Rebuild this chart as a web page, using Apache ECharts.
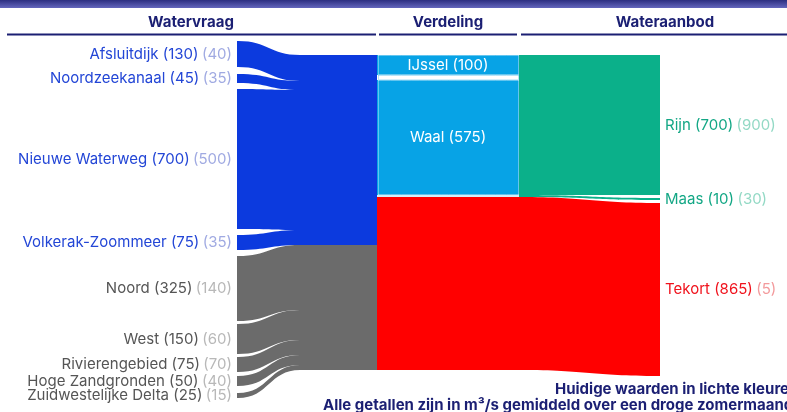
<!DOCTYPE html>
<html>
<head>
<meta charset="utf-8">
<script src="https://cdn.jsdelivr.net/npm/echarts@6/dist/echarts.min.js"></script>
<style>
html,body{margin:0;padding:0;background:#fff;}
#chart{width:787px;height:412px;}
</style>
</head>
<body>
<div id="chart"></div>
<script>
// watervraag (links): toekomstige waarde en huidige waarde (lichte kleur)
var vraagNamen = ['Afsluitdijk', 'Noordzeekanaal', 'Nieuwe Waterweg', 'Volkerak-Zoommeer',
    'Noord', 'West', 'Rivierengebied', 'Hoge Zandgronden', 'Zuidwestelijke Delta'];
var vraagToekomst = [130, 45, 700, 75, 325, 150, 75, 50, 25];
var vraagHuidig = [40, 35, 500, 35, 140, 60, 70, 40, 15];
var vraagGroep = ['blauw', 'blauw', 'blauw', 'blauw', 'grijs', 'grijs', 'grijs', 'grijs', 'grijs'];

// verdeling van de Rijn
var verdelingNamen = ['IJssel', 'Nederrijn', 'Waal'];
var verdelingWaarden = [100, 25, 575];

// wateraanbod (rechts)
var aanbodNamen = ['Rijn', 'Maas', 'Tekort'];
var aanbodToekomst = [700, 10, 865];
var aanbodHuidig = [900, 30, 5];

var kopjes = ['Watervraag', 'Verdeling', 'Wateraanbod'];

// kleuren
var kleur = {
    blauw: '#0c3ade', grijs: '#6b6b6b', lichtblauw: '#07a3e6',
    groen: '#0bb08a', rood: '#ff0000', navy: '#1b1f73'
};
var FONT = 'Inter, "DejaVu Sans", sans-serif';
var FS = 15;

// layout (pixels)
var TOP = 55, H = 315, W = 787;
var totaal = vraagToekomst.reduce(function (a, b) { return a + b; }, 0);
var KY = H / totaal;
var stubY = [41, 74, 89, 235, 256, 324, 357, 376, 393];
var aanbodY = [55, 198, 203];
var xStub = 237, xMerge = 300, xBlok = 376, xVerd = 377, xMid = 519, xAanbod = 659;

function lx(px) { return px / W; }
function ly(px) { return (px - TOP) / H; }

function rs(c) { return {color: c, fontSize: FS, fontFamily: FONT}; }
var labelRich = {
    blauw: rs('#2346d6'), blauwL: rs('#a0aae2'),
    grijs: rs('#555555'), grijsL: rs('#b8b8b8'),
    groen: rs('#13a785'), groenL: rs('#93d9c5'),
    rood: rs('#f0121c'), roodL: rs('#f39a9c')
};

// --- serie 1: watervraag ---
var nodes1 = [], links1 = [];
var groepSom = {blauw: 0, grijs: 0};
vraagNamen.forEach(function (naam, i) {
    var g = vraagGroep[i];
    groepSom[g] += vraagToekomst[i];
    nodes1.push({
        name: naam,
        localX: lx(xStub), localY: ly(stubY[i]),
        itemStyle: {color: kleur[g]},
        label: {
            show: true, position: 'left', distance: 5,
            formatter: '{' + g + '|' + naam + ' (' + vraagToekomst[i] + ')} {' + g + 'L|(' + vraagHuidig[i] + ')}',
            rich: labelRich
        }
    });
    links1.push({source: naam, target: g + '-m', value: vraagToekomst[i],
        lineStyle: {color: kleur[g], opacity: 1}});
});
var yGrijs = TOP + groepSom.blauw * KY;
['blauw', 'grijs'].forEach(function (g) {
    var y = g === 'blauw' ? TOP : yGrijs;
    nodes1.push({name: g + '-m', localX: lx(xMerge), localY: ly(y), itemStyle: {color: kleur[g]}, label: {show: false}});
    nodes1.push({name: g + '-b', localX: lx(xBlok), localY: ly(y), itemStyle: {color: kleur[g]}, label: {show: false}});
    links1.push({source: g + '-m', target: g + '-b', value: groepSom[g], lineStyle: {color: kleur[g], opacity: 1}});
});

// --- serie 2: verdeling en aanbod ---
var nodes2 = [], links2 = [];
var cum = 0;
verdelingNamen.forEach(function (naam, i) {
    var y = TOP + cum * KY;
    cum += verdelingWaarden[i];
    var wit = naam === 'Nederrijn';
    nodes2.push({
        name: naam, localX: lx(xVerd), localY: ly(y),
        itemStyle: {color: wit ? '#ffffff' : kleur.lichtblauw},
        label: wit ? {show: false} : {
            show: true, position: [71, '50%'], align: 'center', verticalAlign: 'middle',
            color: '#ffffff', fontSize: FS, fontFamily: FONT,
            formatter: naam + ' (' + verdelingWaarden[i] + ')'
        }
    });
    links2.push({source: naam, target: 'Rijn-m', value: verdelingWaarden[i],
        lineStyle: wit ? {color: '#ffffff', opacity: 1, borderColor: '#6cc8ef', borderWidth: 1}
            : {color: kleur.lichtblauw, opacity: 1, borderColor: 'rgba(255,255,255,0.75)', borderWidth: 1}});
});
var yMaas = TOP + cum * KY;
var yTekort = yMaas + aanbodToekomst[1] * KY;
nodes2.push({name: 'Maas-v', localX: lx(xVerd), localY: ly(yMaas), itemStyle: {color: '#d4eefa'}, label: {show: false}});
nodes2.push({name: 'Tekort-v', localX: lx(xVerd), localY: ly(yTekort), itemStyle: {color: kleur.rood}, label: {show: false}});
links2.push({source: 'Maas-v', target: 'Maas-m', value: aanbodToekomst[1], lineStyle: {color: '#d4eefa', opacity: 1}});
links2.push({source: 'Tekort-v', target: 'Tekort-m', value: aanbodToekomst[2], lineStyle: {color: kleur.rood, opacity: 1}});

var midY = [TOP, yMaas, yTekort];
var aanbodKleur = ['groen', 'groen', 'rood'];
aanbodNamen.forEach(function (naam, i) {
    var k = aanbodKleur[i];
    nodes2.push({name: naam + '-m', localX: lx(xMid), localY: ly(midY[i]),
        itemStyle: {color: k === 'rood' ? kleur.rood : kleur.groen}, label: {show: false}});
    nodes2.push({
        name: naam, localX: lx(xAanbod), localY: ly(aanbodY[i]),
        itemStyle: {color: k === 'rood' ? kleur.rood : kleur.groen},
        label: {
            show: true, position: 'right', distance: 5,
            formatter: '{' + k + '|' + naam + ' (' + aanbodToekomst[i] + ')} {' + k + 'L|(' + aanbodHuidig[i] + ')}',
            rich: labelRich
        }
    });
    links2.push({source: naam + '-m', target: naam, value: aanbodToekomst[i],
        lineStyle: {color: k === 'rood' ? kleur.rood : kleur.groen, opacity: 1}});
});

function sankeySerie(nodes, links) {
    return {
        type: 'sankey',
        left: 0, top: TOP, width: W, height: H,
        nodeWidth: 1, nodeGap: 0,
        layoutIterations: 0,
        draggable: false,
        silent: true,
        emphasis: {disabled: true},
        lineStyle: {curveness: 0.5, opacity: 1},
        data: nodes,
        links: links
    };
}

var kopFont = 'bold 15px ' + FONT;
var myChart = echarts.init(document.getElementById('chart'));
var option = {
    animation: false,
    textStyle: {fontFamily: FONT},
    graphic: [
        {type: 'rect', shape: {x: 0, y: 0, width: 787, height: 8},
            style: {fill: new echarts.graphic.LinearGradient(0, 0, 0, 1, [
                {offset: 0, color: '#2c2e80'}, {offset: 1, color: '#6466bd'}])}},
        {type: 'text', x: 191, y: 22, style: {text: kopjes[0], fill: kleur.navy, font: kopFont, textAlign: 'center', textVerticalAlign: 'middle'}},
        {type: 'text', x: 448, y: 22, style: {text: kopjes[1], fill: kleur.navy, font: kopFont, textAlign: 'center', textVerticalAlign: 'middle'}},
        {type: 'text', x: 665, y: 22, style: {text: kopjes[2], fill: kleur.navy, font: kopFont, textAlign: 'center', textVerticalAlign: 'middle'}},
        {type: 'line', shape: {x1: 7, y1: 34.5, x2: 376, y2: 34.5}, style: {stroke: kleur.navy, lineWidth: 2}},
        {type: 'line', shape: {x1: 379, y1: 34.5, x2: 517, y2: 34.5}, style: {stroke: kleur.navy, lineWidth: 2}},
        {type: 'line', shape: {x1: 521, y1: 34.5, x2: 787, y2: 34.5}, style: {stroke: kleur.navy, lineWidth: 2}},
        {type: 'text', x: 555, y: 389, style: {text: 'Huidige waarden in lichte kleuren', fill: kleur.navy, font: kopFont, textAlign: 'left', textVerticalAlign: 'middle'}},
        {type: 'text', x: 323, y: 405, style: {text: 'Alle getallen zijn in m³/s gemiddeld over een droge zomermaand', fill: kleur.navy, font: kopFont, textAlign: 'left', textVerticalAlign: 'middle'}}
    ],
    series: [sankeySerie(nodes1, links1), sankeySerie(nodes2, links2)]
};
myChart.setOption(option);
window.addEventListener('resize', function () {
    myChart.resize();
});
</script>
</body>
</html>
